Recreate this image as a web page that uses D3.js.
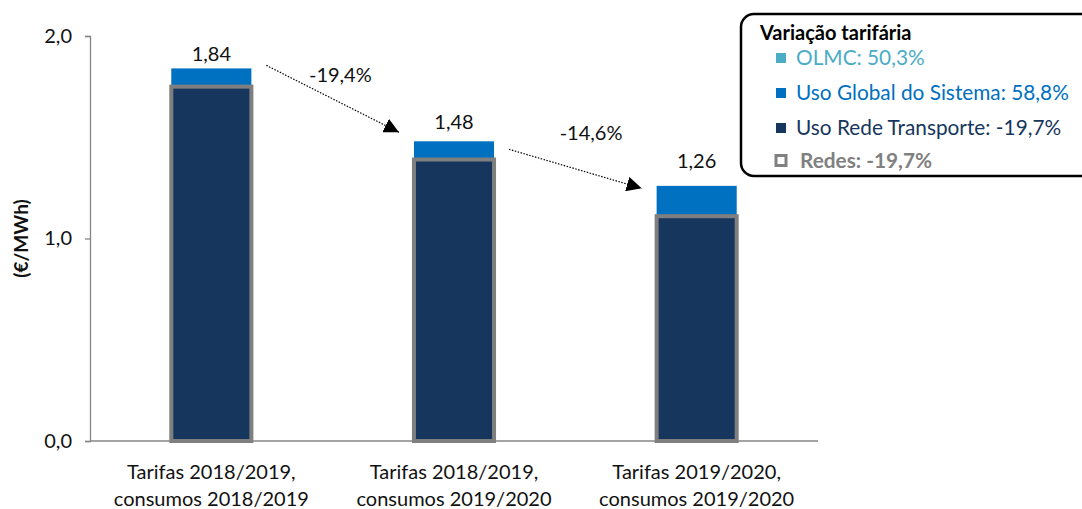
<!DOCTYPE html>
<html>
<head>
<meta charset="utf-8">
<script src="https://cdn.jsdelivr.net/npm/d3@7"></script>
<style>
  body { margin: 0; background: #fff; }
  svg { font-family: Lato, "Open Sans", sans-serif; }
</style>
</head>
<body>
<svg id="chart"></svg>
<script>
/* global d3 */
const categories = [
  ['Tarifas 2018/2019,', 'consumos 2018/2019'],
  ['Tarifas 2018/2019,', 'consumos 2019/2020'],
  ['Tarifas 2019/2020,', 'consumos 2019/2020']
]
const usoRedeTransporte = [1.75, 1.39, 1.11]
const usoGlobalSistema = [0.09, 0.09, 0.15]
const olmc = [0.0, 0.0, 0.0]
const totals = [1.84, 1.48, 1.26]
const yTicks = [0, 1, 2]
const variations = [
  { from: 0, to: 1, label: '-19,4%' },
  { from: 1, to: 2, label: '-14,6%' }
]
const legendTitle = 'Variação tarifária'
const legendItems = [
  { label: 'OLMC: 50,3%', color: '#4bacc6' },
  { label: 'Uso Global do Sistema: 58,8%', color: '#0070c0' },
  { label: 'Uso Rede Transporte: -19,7%', color: '#17365d' },
  { label: 'Redes: -19,7%', color: '#808080', hollow: true }
]

const width = 1082
const height = 509
const fontSize = 20
const fmt = v => d3.format('.2f')(v).replace('.', ',')

// layout nudges (px) for labels / arrows
const totalLabelDy = [7, 12, 18]
const arrowDy = [[-3, -9], [8, 2.5]]
const arrowLabelOff = [[74, 17], [82, -9]]

const svg = d3.select('#chart').attr('width', width).attr('height', height)

const x = d3.scaleBand()
  .domain(d3.range(categories.length))
  .range([90, 818])
  .paddingInner(0.67)
  .paddingOuter(0.335)

const y = d3.scaleLinear().domain([0, 2]).range([441, 36])

/** Axes */
const yAxis = d3.axisLeft(y)
  .tickValues(yTicks)
  .tickSize(5)
  .tickFormat(d => d3.format('.1f')(d).replace('.', ','))

const gy = svg.append('g').attr('transform', 'translate(90,0)').call(yAxis)
gy.select('.domain').attr('stroke', '#868686').attr('stroke-width', 1.3)
gy.selectAll('.tick line').attr('stroke', '#868686').attr('stroke-width', 1.3)
gy.selectAll('.tick text')
  .attr('x', -18)
  .attr('font-size', fontSize)
  .attr('font-family', 'Lato')
  .attr('fill', '#111')

svg.append('line')
  .attr('x1', 90).attr('x2', 818)
  .attr('y1', y(0)).attr('y2', y(0))
  .attr('stroke', '#868686').attr('stroke-width', 1.3)

svg.append('text')
  .attr('transform', `translate(28,${(y(0) + y(2)) / 2}) rotate(-90)`)
  .attr('text-anchor', 'middle')
  .attr('font-size', 19)
  .attr('font-weight', 'bold')
  .attr('fill', '#111')
  .text('(€/MWh)')

/** category labels */
const cat = svg.append('g')
categories.forEach((lines, i) => {
  const t = cat.append('text')
    .attr('text-anchor', 'middle')
    .attr('font-size', fontSize)
    .attr('fill', '#111')
  lines.forEach((ln, j) => {
    t.append('tspan')
      .attr('x', x(i) + x.bandwidth() / 2)
      .attr('y', 479 + j * 27)
      .text(ln)
  })
})

/** bars */
const bars = svg.append('g')
// Uso Global do Sistema on top of the transport part
bars.selectAll('rect.global')
  .data(usoGlobalSistema)
  .enter()
  .append('rect')
  .attr('class', 'global')
  .attr('x', (d, i) => x(i))
  .attr('y', (d, i) => y(usoRedeTransporte[i] + d))
  .attr('width', x.bandwidth())
  .attr('height', (d, i) => y(usoRedeTransporte[i]) - y(usoRedeTransporte[i] + d))
  .attr('fill', '#0070c0')

bars.selectAll('rect.olmc')
  .data(olmc)
  .enter()
  .append('rect')
  .attr('class', 'olmc')
  .attr('x', (d, i) => x(i))
  .attr('y', (d, i) => y(usoRedeTransporte[i] + usoGlobalSistema[i] + d))
  .attr('width', x.bandwidth())
  .attr('height', d => y(0) - y(d))
  .attr('fill', '#4bacc6')

// Uso Rede Transporte, outlined as Redes
bars.selectAll('rect.rede')
  .data(usoRedeTransporte)
  .enter()
  .append('rect')
  .attr('class', 'rede')
  .attr('x', (d, i) => x(i))
  .attr('y', d => y(d))
  .attr('width', x.bandwidth())
  .attr('height', d => y(0) - y(d))
  .attr('fill', '#17365d')
  .attr('stroke', '#7f7f7f')
  .attr('stroke-width', 4)

bars.selectAll('text.total')
  .data(totals)
  .enter()
  .append('text')
  .attr('class', 'total')
  .attr('x', (d, i) => x(i) + x.bandwidth() / 2)
  .attr('y', (d, i) => y(d) - totalLabelDy[i])
  .attr('text-anchor', 'middle')
  .attr('font-size', fontSize)
  .attr('fill', '#111')
  .text(d => fmt(d))

/** variation arrows */
svg.append('defs').append('marker')
  .attr('id', 'head')
  .attr('viewBox', '0 0 10 10')
  .attr('refX', 10).attr('refY', 5)
  .attr('markerWidth', 15).attr('markerHeight', 15)
  .attr('markerUnits', 'userSpaceOnUse')
  .attr('orient', 'auto')
  .append('path')
  .attr('d', 'M0,0 L10,5 L0,10 Z')
  .attr('fill', '#000')

variations.forEach((v, k) => {
  const x0 = x(v.from) + x.bandwidth() + 15
  const y0 = y(totals[v.from]) + arrowDy[k][0]
  const x1 = x(v.to) - 15
  const y1 = y(totals[v.to]) + arrowDy[k][1]
  svg.append('line')
    .attr('x1', x0).attr('y1', y0)
    .attr('x2', x1).attr('y2', y1)
    .attr('stroke', '#000')
    .attr('stroke-width', 1.2)
    .attr('stroke-dasharray', '1.5,1.5')
    .attr('marker-end', 'url(#head)')
  svg.append('text')
    .attr('x', x0 + arrowLabelOff[k][0])
    .attr('y', y0 + arrowLabelOff[k][1])
    .attr('text-anchor', 'middle')
    .attr('font-size', fontSize)
    .attr('fill', '#111')
    .text(v.label)
})

/** legend */
const lg = svg.append('g').attr('transform', 'translate(741,14)')
lg.append('rect')
  .attr('width', 380).attr('height', 162)
  .attr('rx', 13)
  .attr('fill', '#fff')
  .attr('stroke', '#000')
  .attr('stroke-width', 2.5)
lg.append('text')
  .attr('x', 19).attr('y', 26)
  .attr('font-size', 20)
  .attr('font-weight', 'bold')
  .attr('fill', '#000')
  .text(legendTitle)

const rowY = [51, 86, 121, 154]
const items = lg.selectAll('g.item')
  .data(legendItems)
  .enter()
  .append('g')
  .attr('class', 'item')
  .attr('transform', (d, i) => `translate(0,${rowY[i]})`)

items.append('rect')
  .attr('x', 35)
  .attr('y', d => d.hollow ? -12.5 : -12)
  .attr('width', 10)
  .attr('height', 10)
  .attr('fill', d => d.hollow ? '#fff' : d.color)
  .attr('stroke', d => d.hollow ? d.color : 'none')
  .attr('stroke-width', 3)

items.append('text')
  .attr('x', d => d.hollow ? 59 : 55)
  .attr('y', 0)
  .attr('font-size', 20.8)
  .attr('font-weight', d => d.hollow ? 'bold' : 'normal')
  .attr('fill', d => d.color)
  .text(d => d.label)
</script>
</body>
</html>
